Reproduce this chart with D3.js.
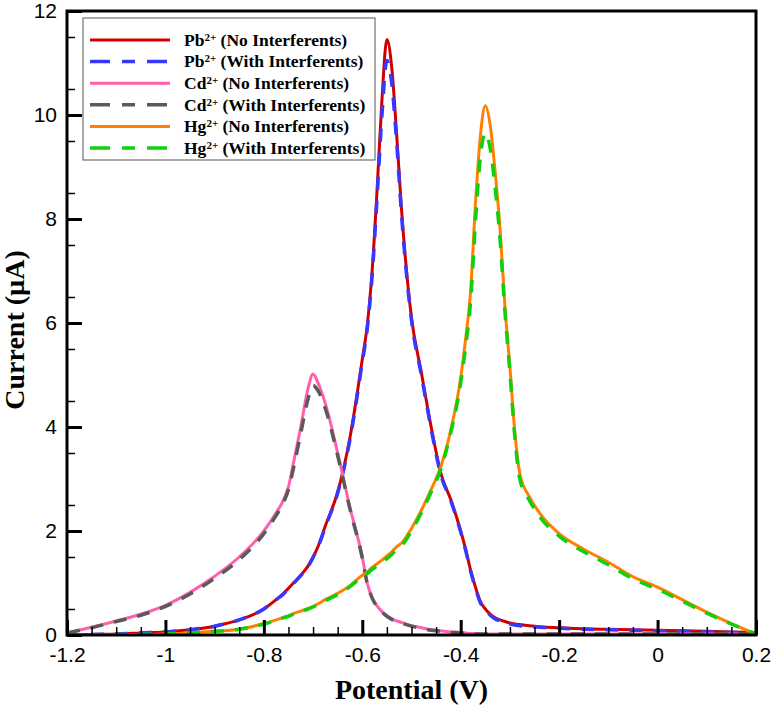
<!DOCTYPE html>
<html>
<head>
<meta charset="utf-8">
<script src="https://cdn.jsdelivr.net/npm/d3@7"></script>
<style>
  body { margin: 0; background: #fff; }
  .tick-label { font-family: "Liberation Sans", Arial, sans-serif; font-size: 21px; fill: #000; }
  .axis-title { font-family: "Liberation Serif", "Times New Roman", serif; font-size: 28px; font-weight: bold; fill: #000; }
  .legend-text { font-family: "Liberation Serif", "Times New Roman", serif; font-size: 17.5px; font-weight: bold; fill: #000; }
</style>
</head>
<body>
<div class="chart"></div>
<script>
// potential grid (V)
var potential = [-1.2, -1.15, -1.1, -1.05, -1.0, -0.95, -0.9, -0.85, -0.8, -0.775, -0.76, -0.75, -0.74, -0.725, -0.71, -0.7, -0.69, -0.675,
  -0.65, -0.625, -0.6, -0.59, -0.58, -0.57, -0.56, -0.55, -0.54, -0.53, -0.52, -0.5, -0.48, -0.46, -0.44, -0.42,
  -0.4, -0.39, -0.38, -0.37, -0.36, -0.35, -0.34, -0.33, -0.32, -0.31, -0.3, -0.29, -0.28, -0.26, -0.24, -0.2,
  -0.15, -0.1, -0.05, 0, 0.05, 0.1, 0.15, 0.2];

// currents (uA)
var pbNo = [0.0, 0.01, 0.02, 0.04, 0.06, 0.1, 0.17, 0.29, 0.5, 0.68, 0.8, 0.9, 1.0, 1.15, 1.33, 1.5, 1.7, 2.1,
  2.75, 3.8, 5.3, 5.95, 7.0, 8.55, 10.3, 11.45, 10.9, 9.6, 8.15, 6.1, 5.05, 4.0, 3.1, 2.6,
  2.0, 1.65, 1.25, 0.92, 0.64, 0.5, 0.4, 0.33, 0.29, 0.26, 0.23, 0.21, 0.2, 0.18, 0.16, 0.14,
  0.12, 0.11, 0.1, 0.09, 0.08, 0.07, 0.06, 0.05];
var pbWith = [0.0, 0.01, 0.02, 0.04, 0.06, 0.1, 0.17, 0.29, 0.5, 0.68, 0.79, 0.9, 0.99, 1.14, 1.32, 1.49, 1.69, 2.08,
  2.73, 3.76, 5.25, 5.88, 6.9, 8.4, 10.0, 11.05, 10.6, 9.45, 8.05, 6.05, 5.0, 3.96, 3.07, 2.58,
  1.98, 1.63, 1.23, 0.9, 0.62, 0.48, 0.38, 0.31, 0.27, 0.24, 0.21, 0.19, 0.18, 0.16, 0.15, 0.13,
  0.11, 0.1, 0.09, 0.08, 0.07, 0.06, 0.05, 0.04];
var cdNo = [0.04, 0.15, 0.27, 0.4, 0.57, 0.82, 1.13, 1.5, 2.0, 2.35, 2.6, 2.85, 3.3, 4.0, 4.75, 5.02, 4.85, 4.45,
  3.5, 2.45, 1.5, 1.0, 0.72, 0.56, 0.45, 0.37, 0.31, 0.27, 0.24, 0.18, 0.14, 0.1, 0.08, 0.06,
  0.05, 0.04, 0.03, 0.03, 0.02, 0.02, 0.02, 0.02, 0.02, 0.02, 0.02, 0.02, 0.02, 0.02, 0.02, 0.02,
  0.02, 0.02, 0.02, 0.02, 0.02, 0.02, 0.02, 0.02];
var cdWith = [0.04, 0.14, 0.26, 0.38, 0.55, 0.79, 1.09, 1.45, 1.95, 2.3, 2.55, 2.8, 3.2, 3.88, 4.55, 4.8, 4.7, 4.35,
  3.45, 2.42, 1.48, 0.99, 0.71, 0.55, 0.44, 0.36, 0.3, 0.26, 0.23, 0.17, 0.13, 0.09, 0.07, 0.05,
  0.04, 0.03, 0.03, 0.02, 0.02, 0.02, 0.02, 0.02, 0.02, 0.02, 0.02, 0.02, 0.02, 0.02, 0.02, 0.02,
  0.02, 0.02, 0.02, 0.02, 0.02, 0.02, 0.02, 0.02];
var hgNo = [0.0, 0.0, 0.01, 0.01, 0.02, 0.04, 0.07, 0.11, 0.22, 0.29, 0.34, 0.37, 0.41, 0.46, 0.51, 0.55, 0.6, 0.68,
  0.8, 0.95, 1.15, 1.21, 1.3, 1.37, 1.44, 1.52, 1.6, 1.7, 1.77, 2.05, 2.4, 2.8, 3.25, 3.95,
  4.95, 5.7, 6.6, 8.3, 9.6, 10.18, 9.8, 8.9, 7.8, 6.3, 5.15, 3.9, 3.1, 2.65, 2.35, 1.95,
  1.65, 1.4, 1.12, 0.92, 0.68, 0.44, 0.22, 0.02];
var hgWith = [0.0, 0.0, 0.01, 0.01, 0.02, 0.04, 0.07, 0.11, 0.21, 0.28, 0.33, 0.36, 0.4, 0.45, 0.5, 0.54, 0.58, 0.66,
  0.78, 0.93, 1.12, 1.18, 1.26, 1.33, 1.4, 1.47, 1.55, 1.65, 1.72, 2.0, 2.35, 2.75, 3.2, 3.9,
  4.85, 5.55, 6.4, 7.95, 9.2, 9.65, 9.35, 8.6, 7.6, 6.2, 5.05, 3.8, 3.0, 2.58, 2.28, 1.9,
  1.6, 1.35, 1.08, 0.88, 0.65, 0.42, 0.21, 0.02];

var xTicks = [-1.2, -1, -0.8, -0.6, -0.4, -0.2, 0, 0.2];
var yTicks = [0, 2, 4, 6, 8, 10, 12];

var series = [
  {ion: "Pb", note: " (No Interferents)", values: pbNo, color: "#d10000", dash: null},
  {ion: "Pb", note: " (With Interferents)", values: pbWith, color: "#3737ff", dash: "13,11"},
  {ion: "Cd", note: " (No Interferents)", values: cdNo, color: "#ff5fae", dash: null},
  {ion: "Cd", note: " (With Interferents)", values: cdWith, color: "#5a5a5a", dash: "13,11"},
  {ion: "Hg", note: " (No Interferents)", values: hgNo, color: "#ff8000", dash: null},
  {ion: "Hg", note: " (With Interferents)", values: hgWith, color: "#0fd00f", dash: "13,11"}
];

var W = 774, H = 707,
  plotL = 67, plotR = 756, plotT = 11, plotB = 635;

var x = d3.scaleLinear().domain([-1.2, 0.2]).range([plotL, plotR]),
  y = d3.scaleLinear().domain([0, 12]).range([plotB, plotT]);

var svg = d3.select(".chart").append("svg")
  .attr("width", W)
  .attr("height", H);

svg.append("defs").append("clipPath").attr("id", "plotclip")
  .append("rect")
  .attr("x", plotL).attr("y", plotT - 2)
  .attr("width", plotR - plotL).attr("height", plotB - plotT + 2);

var line = d3.line()
  .x(function(d, i) { return x(potential[i]); })
  .y(function(d) { return y(d); })
  .curve(d3.curveMonotoneX);

var plot = svg.append("g").attr("clip-path", "url(#plotclip)");

plot.selectAll(".serie")
  .data(series)
  .enter().append("path")
    .attr("class", "serie")
    .attr("fill", "none")
    .attr("stroke", function(d) { return d.color; })
    .attr("stroke-width", function(d) { return d.dash ? 3.5 : 3; })
    .attr("stroke-dasharray", function(d) { return d.dash; })
    .attr("d", function(d) { return line(d.values); });

// minor ticks every 0.05 V and 0.5 uA
var xMinor = d3.range(-1.2, 0.2001, 0.05).filter(function(v) {
  return Math.abs(v * 5 - Math.round(v * 5)) > 1e-6;
});
var yMinor = d3.range(0.5, 12, 1);

// frame
svg.append("rect")
  .attr("x", plotL).attr("y", plotT)
  .attr("width", plotR - plotL).attr("height", plotB - plotT)
  .attr("fill", "none").attr("stroke", "#000").attr("stroke-width", 3);

// inward ticks
var xMinorAxis = svg.append("g")
  .attr("transform", "translate(0," + plotB + ")")
  .call(d3.axisBottom(x).tickValues(xMinor).tickSize(-8).tickFormat(""));
var yMinorAxis = svg.append("g")
  .attr("transform", "translate(" + plotL + ",0)")
  .call(d3.axisLeft(y).tickValues(yMinor).tickSize(-8).tickFormat(""));
[xMinorAxis, yMinorAxis].forEach(function(g) {
  g.select(".domain").remove();
  g.selectAll(".tick line").attr("stroke", "#000").attr("stroke-width", 1.5);
});

var xAxis = svg.append("g")
  .attr("transform", "translate(0," + plotB + ")")
  .call(d3.axisBottom(x).tickValues(xTicks).tickSize(-15).tickPadding(12)
    .tickFormat(function(d) { return String(d); }));
var yAxis = svg.append("g")
  .attr("transform", "translate(" + plotL + ",0)")
  .call(d3.axisLeft(y).tickValues(yTicks).tickSize(-15).tickPadding(10)
    .tickFormat(function(d) { return String(d); }));
[xAxis, yAxis].forEach(function(g) {
  g.select(".domain").remove();
  g.selectAll(".tick line").attr("stroke", "#000").attr("stroke-width", 3);
  g.selectAll(".tick text").attr("class", "tick-label").attr("font-family", null).attr("font-size", null);
});
xAxis.attr("font-size", null).attr("font-family", null);
yAxis.attr("font-size", null).attr("font-family", null);

svg.append("text")
  .attr("class", "axis-title")
  .attr("x", (plotL + plotR) / 2)
  .attr("y", 699)
  .attr("text-anchor", "middle")
  .text("Potential (V)");

svg.append("text")
  .attr("class", "axis-title")
  .attr("transform", "translate(24," + 330 + ") rotate(-90)")
  .attr("text-anchor", "middle")
  .text("Current (µA)");

// legend
var legendBox = svg.append("g");
legendBox.append("rect")
  .attr("x", 83).attr("y", 18)
  .attr("width", 292).attr("height", 142)
  .attr("fill", "#fff").attr("stroke", "#555").attr("stroke-width", 1);

var legend = legendBox.selectAll(".legend")
  .data(series)
  .enter().append("g")
    .attr("class", "legend")
    .attr("transform", function(d, i) { return "translate(0," + (40 + i * 21.6) + ")"; });

legend.append("line")
  .attr("x1", 90).attr("x2", 170)
  .attr("stroke", function(d) { return d.color; })
  .attr("stroke-width", function(d) { return d.dash ? 3.5 : 3; })
  .attr("stroke-dasharray", function(d) { return d.dash ? "20,12,13,12" : null; });

var lt = legend.append("text")
  .attr("class", "legend-text")
  .attr("x", 184)
  .attr("dy", "0.33em");
lt.append("tspan").text(function(d) { return d.ion; });
lt.append("tspan").attr("font-size", "11px").attr("dy", "-0.45em").text("2+");
lt.append("tspan").attr("dy", "0.28em").text(function(d) { return d.note; });
</script>
</body>
</html>
